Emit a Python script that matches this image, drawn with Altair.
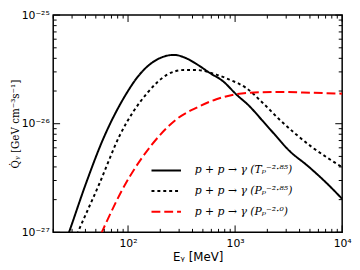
import altair as alt
import pandas as pd

# ---- data ----
series_names = ["p + p → γ (Tₚ⁻²·⁸⁵)", "p + p → γ (Pₚ⁻²·⁸⁵)", "p + p → γ (Pₚ⁻²·⁰)"]

E_T = [25.0, 28.1, 40.2, 58.3, 94.2, 123, 166, 268, 355, 439, 581, 771, 1021, 1352, 1795,
       2377, 3148, 4808, 7345, 10000]
Q_T = [7.24e-28, 1.0e-27, 2.77e-27, 7.16e-27, 1.82e-26, 2.70e-26, 3.62e-26, 4.30e-26, 3.98e-26,
       3.53e-26, 2.93e-26, 2.46e-26, 1.87e-26, 1.46e-26, 1.07e-26, 7.83e-27, 5.74e-27, 4.06e-27,
       2.77e-27, 2.03e-27]

E_P285 = [30.2, 34.0, 53.7, 83.8, 152, 232, 330, 439, 668, 885, 1262, 1795, 2553, 3631, 5164, 7345, 10000]
Q_P285 = [7.6e-28, 1.0e-27, 2.77e-27, 7.83e-27, 1.93e-26, 2.83e-26, 3.12e-26, 3.12e-26, 2.83e-26,
          2.55e-26, 2.14e-26, 1.57e-26, 1.11e-26, 8.13e-27, 6.14e-27, 4.83e-27, 3.98e-27]

E_P20 = [50.1, 56.8, 94.2, 166, 287, 439, 668, 1021, 1352, 2553, 5164, 10000]
Q_P20 = [7.6e-28, 1.0e-27, 2.77e-27, 6.37e-27, 1.11e-26, 1.41e-26, 1.68e-26, 1.87e-26, 1.93e-26,
         1.96e-26, 1.93e-26, 1.89e-26]

x_major = [100, 1000, 10000]
x_minor = [k * 10 ** e for e in (1, 2, 3) for k in range(2, 10) if k * 10 ** e >= 20]
y_major = [1e-27, 1e-26, 1e-25]
y_minor = [k * 10.0 ** e for e in (-27, -26) for k in range(2, 10)]

rows = []
for name, es, qs in zip(series_names, [E_T, E_P285, E_P20], [Q_T, Q_P285, Q_P20]):
    for e, q in zip(es, qs):
        rows.append({"series": name, "E": e, "Q": q})
df = pd.DataFrame(rows)

W, H = 294, 221

xscale = alt.Scale(type="log", domain=[20, 10000], nice=False)
yscale = alt.Scale(type="log", domain=[1e-27, 1e-25], nice=False)

x_label_expr = ("abs(datum.value-100)<1 ? '10²' : abs(datum.value-1000)<1 ? '10³' : "
                "abs(datum.value-10000)<1 ? '10⁴' : ''")
y_label_expr = ("abs(log(datum.value)/LN10+25)<0.01 ? '10⁻²⁵' : "
                "abs(log(datum.value)/LN10+26)<0.01 ? '10⁻²⁶' : "
                "abs(log(datum.value)/LN10+27)<0.01 ? '10⁻²⁷' : ''")

legend = alt.Legend(
    title=None, orient="none", legendX=99, legendY=142, padding=0,
    symbolType="stroke", symbolSize=900, symbolStrokeWidth=2,
    labelFont="DejaVu Serif", labelFontStyle="italic", labelFontSize=11,
    labelOffset=13, rowPadding=0, labelColor="black",
)

x_axis = alt.Axis(
    orient="bottom", values=x_major, labelExpr=x_label_expr, ticks=False, domain=False,
    grid=False, labelPadding=5, labelOverlap=False, labelFlush=False,
    labelFont="DejaVu Sans", labelFontSize=11, labelColor="black",
    title="Eᵧ [MeV]", titleFont="DejaVu Sans", titleFontSize=12, titleFontWeight="normal",
    titlePadding=4, titleColor="black")
y_axis = alt.Axis(
    orient="left", values=y_major, labelExpr=y_label_expr, ticks=False, domain=False,
    grid=False, labelPadding=4, labelOverlap=False, labelFlush=False,
    labelFont="DejaVu Sans", labelFontSize=11, labelColor="black",
    title="Q̇ᵧ [GeV cm⁻³s⁻¹]", titleFont="DejaVu Serif", titleFontSize=10.5,
    titleFontWeight="normal", titlePadding=1, titleColor="black")

lines = alt.Chart(df).mark_line(clip=True, strokeWidth=2, interpolate="monotone").encode(
    x=alt.X("E:Q", scale=xscale, axis=x_axis),
    y=alt.Y("Q:Q", scale=yscale, axis=y_axis),
    color=alt.Color("series:N", scale=alt.Scale(domain=series_names, range=["black", "black", "#ff0000"]),
                    legend=legend),
    strokeDash=alt.StrokeDash("series:N", scale=alt.Scale(domain=series_names,
                              range=[[1, 0], [3, 3], [9, 4]]), legend=legend),
)

# inward ticks on all four sides
tick_layers = []
for vals, length in [(x_major, 7), (x_minor, 3.5)]:
    d = pd.DataFrame({"E": vals})
    for y0, y1 in [(H, H - length), (0, length)]:
        tick_layers.append(alt.Chart(d).mark_rule(color="black", strokeWidth=1).encode(
            x=alt.X("E:Q", scale=xscale, axis=x_axis), y=alt.value(y0), y2=alt.value(y1)))
for vals, length in [(y_major, 7), (y_minor, 3.5)]:
    d = pd.DataFrame({"Q": vals})
    for x0, x1 in [(0, length), (W, W - length)]:
        tick_layers.append(alt.Chart(d).mark_rule(color="black", strokeWidth=1).encode(
            y=alt.Y("Q:Q", scale=yscale, axis=y_axis), x=alt.value(x0), x2=alt.value(x1)))

chart = alt.layer(lines, *tick_layers).properties(
    width=W, height=H, autosize="none",
    padding={"left": 46, "top": 5, "right": 10, "bottom": 30},
).configure_view(stroke="black", strokeWidth=1.5)

chart.save("out.html", embed_options={"renderer": "svg", "actions": False})
